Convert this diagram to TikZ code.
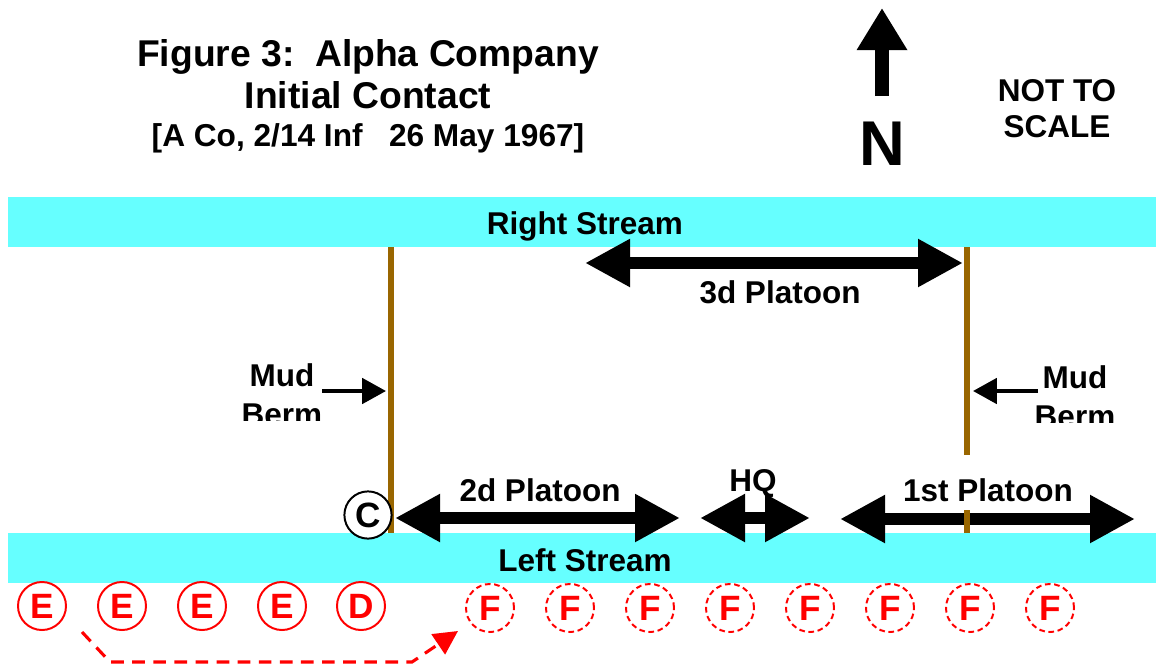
\documentclass[tikz,border=0pt]{standalone}
\usepackage{fontspec}
\setmainfont{Liberation Sans}
\usetikzlibrary{arrows.meta,positioning}
\definecolor{water}{HTML}{66FFFF}
\definecolor{mud}{HTML}{996600}
\definecolor{foe}{HTML}{FF0000}
\tikzset{
  title/.style={font=\bfseries\fontsize{26.5}{30}\selectfont,anchor=base,inner sep=0pt},
  subtitle/.style={font=\bfseries\fontsize{22.5}{26}\selectfont,anchor=base,inner sep=0pt},
  lbl/.style={font=\bfseries\fontsize{22.4}{25}\selectfont,anchor=base,inner sep=0pt},
  bigletter/.style={font=\bfseries\fontsize{45}{48}\selectfont,anchor=base,inner sep=0pt},
  band/.style={fill=water,draw=none,inner sep=0pt,minimum width=28.7cm,minimum height=1.25cm,anchor=north west},
  berm/.style={draw=mud,line width=3.8pt},
  span/.style={<->,>={Triangle[length=32pt,width=32pt]},line width=9.2pt},
  pointer/.style={->,>={Triangle[length=17pt,width=18pt]},line width=2.8pt},
  northarr/.style={->,>={Triangle[length=30pt,width=34pt]},line width=10pt},
  unit/.style={circle,minimum size=1.2cm,inner sep=0pt,line width=1.4pt,font=\bfseries\fontsize{25}{27}\selectfont},
  enemy/.style={unit,draw=foe,text=foe},
  enemyguess/.style={unit,draw=foe,text=foe,dash pattern=on 4pt off 2.6pt},
  cmd/.style={unit,draw=black,fill=white,minimum size=1.18cm},
  move/.style={->,>={Triangle[length=17pt,width=17pt]},draw=foe,line width=2.2pt,dash pattern=on 9pt off 6pt}
}
\begin{document}
\begin{tikzpicture}[x=0.025cm,y=-0.025cm]
\path[use as bounding box] (0,0) rectangle (1156,665);
\node[title] (ttl1) at (368,66) {Figure 3:\ \ Alpha Company};
\node[title] (ttl2) at (368,108) {Initial Contact};
\node[subtitle] (ttl3) at (368,146) {[A Co, 2/14 Inf\ \ \ 26 May 1967]};
\coordinate (ntail) at (882,96); \coordinate (ntip) at (882,8);
\draw[northarr] (ntail) -- (ntip);
\node[bigletter] (nletter) at (882,165) {N};
\node[lbl] (nts1) at (1057,101) {NOT TO}; \node[lbl] (nts2) at (1057,137) {SCALE};
\node[band] (rband) at (8,197) {}; \node[band] (lband) at (8,533) {};
\coordinate (lb1) at (391,247); \coordinate (lb2) at (391,533); \coordinate (rb1) at (967,247); \coordinate (rb2) at (967,533);
\draw[berm] (lb1) -- (lb2);
\coordinate (p3a) at (585,263); \coordinate (p3b) at (963,263);
\coordinate (p2a) at (395,518); \coordinate (p2b) at (680,518);
\coordinate (hqa) at (700,518); \coordinate (hqb) at (810,518);
\coordinate (p1a) at (840,519); \coordinate (p1b) at (1135,519);
\draw[span] (p3a) -- (p3b); \draw[span] (p2a) -- (p2b); \draw[span] (hqa) -- (hqb); \draw[span] (p1a) -- (p1b);
\draw[berm] (rb1) -- (rb2);
\node[lbl] (rstream) at (585,234) {Right Stream}; \node[lbl] (lstream) at (585,571) {Left Stream};
\node[lbl] (plt3) at (780,303) {3d Platoon}; \node[lbl] (plt2) at (540,501) {2d Platoon}; \node[lbl] (hq) at (753,491) {HQ};
\node[lbl,fill=white,text height=32.7pt,text depth=6.4pt] (plt1) at (988,501) {1st Platoon};
\begin{scope}
\clip (200,350) rectangle (340,420);
\node[lbl] (lmud) at (282,386) {Mud}; \node[lbl] (lberm) at (282,425) {Berm};
\end{scope}
\begin{scope}
\clip (1020,350) rectangle (1130,422);
\node[lbl] (rmud) at (1075,388) {Mud}; \node[lbl] (rberm) at (1075,427) {Berm};
\end{scope}
\coordinate (lmt) at (322,391); \coordinate (lmh) at (386,391); \coordinate (rmt) at (1038,391); \coordinate (rmh) at (973,391);
\draw[pointer] (lmt) -- (lmh); \draw[pointer] (rmt) -- (rmh);
\node[cmd] (co) at (368,515) {C};
\foreach \i/\x in {1/42,2/122,3/202,4/282} \node[enemy] (e\i) at (\x,606) {E};
\node[enemy] (d1) at (361,606) {D};
\foreach \i in {1,...,8} \node[enemyguess] (f\i) at (410+80*\i,608) {F};
\coordinate (ms) at (82,632); \coordinate (mc1) at (110,662); \coordinate (mc2) at (412,662); \coordinate (me) at (458,631);
\draw[move] (ms) -- (mc1) -- (mc2) -- (me);
\end{tikzpicture}
\end{document}
